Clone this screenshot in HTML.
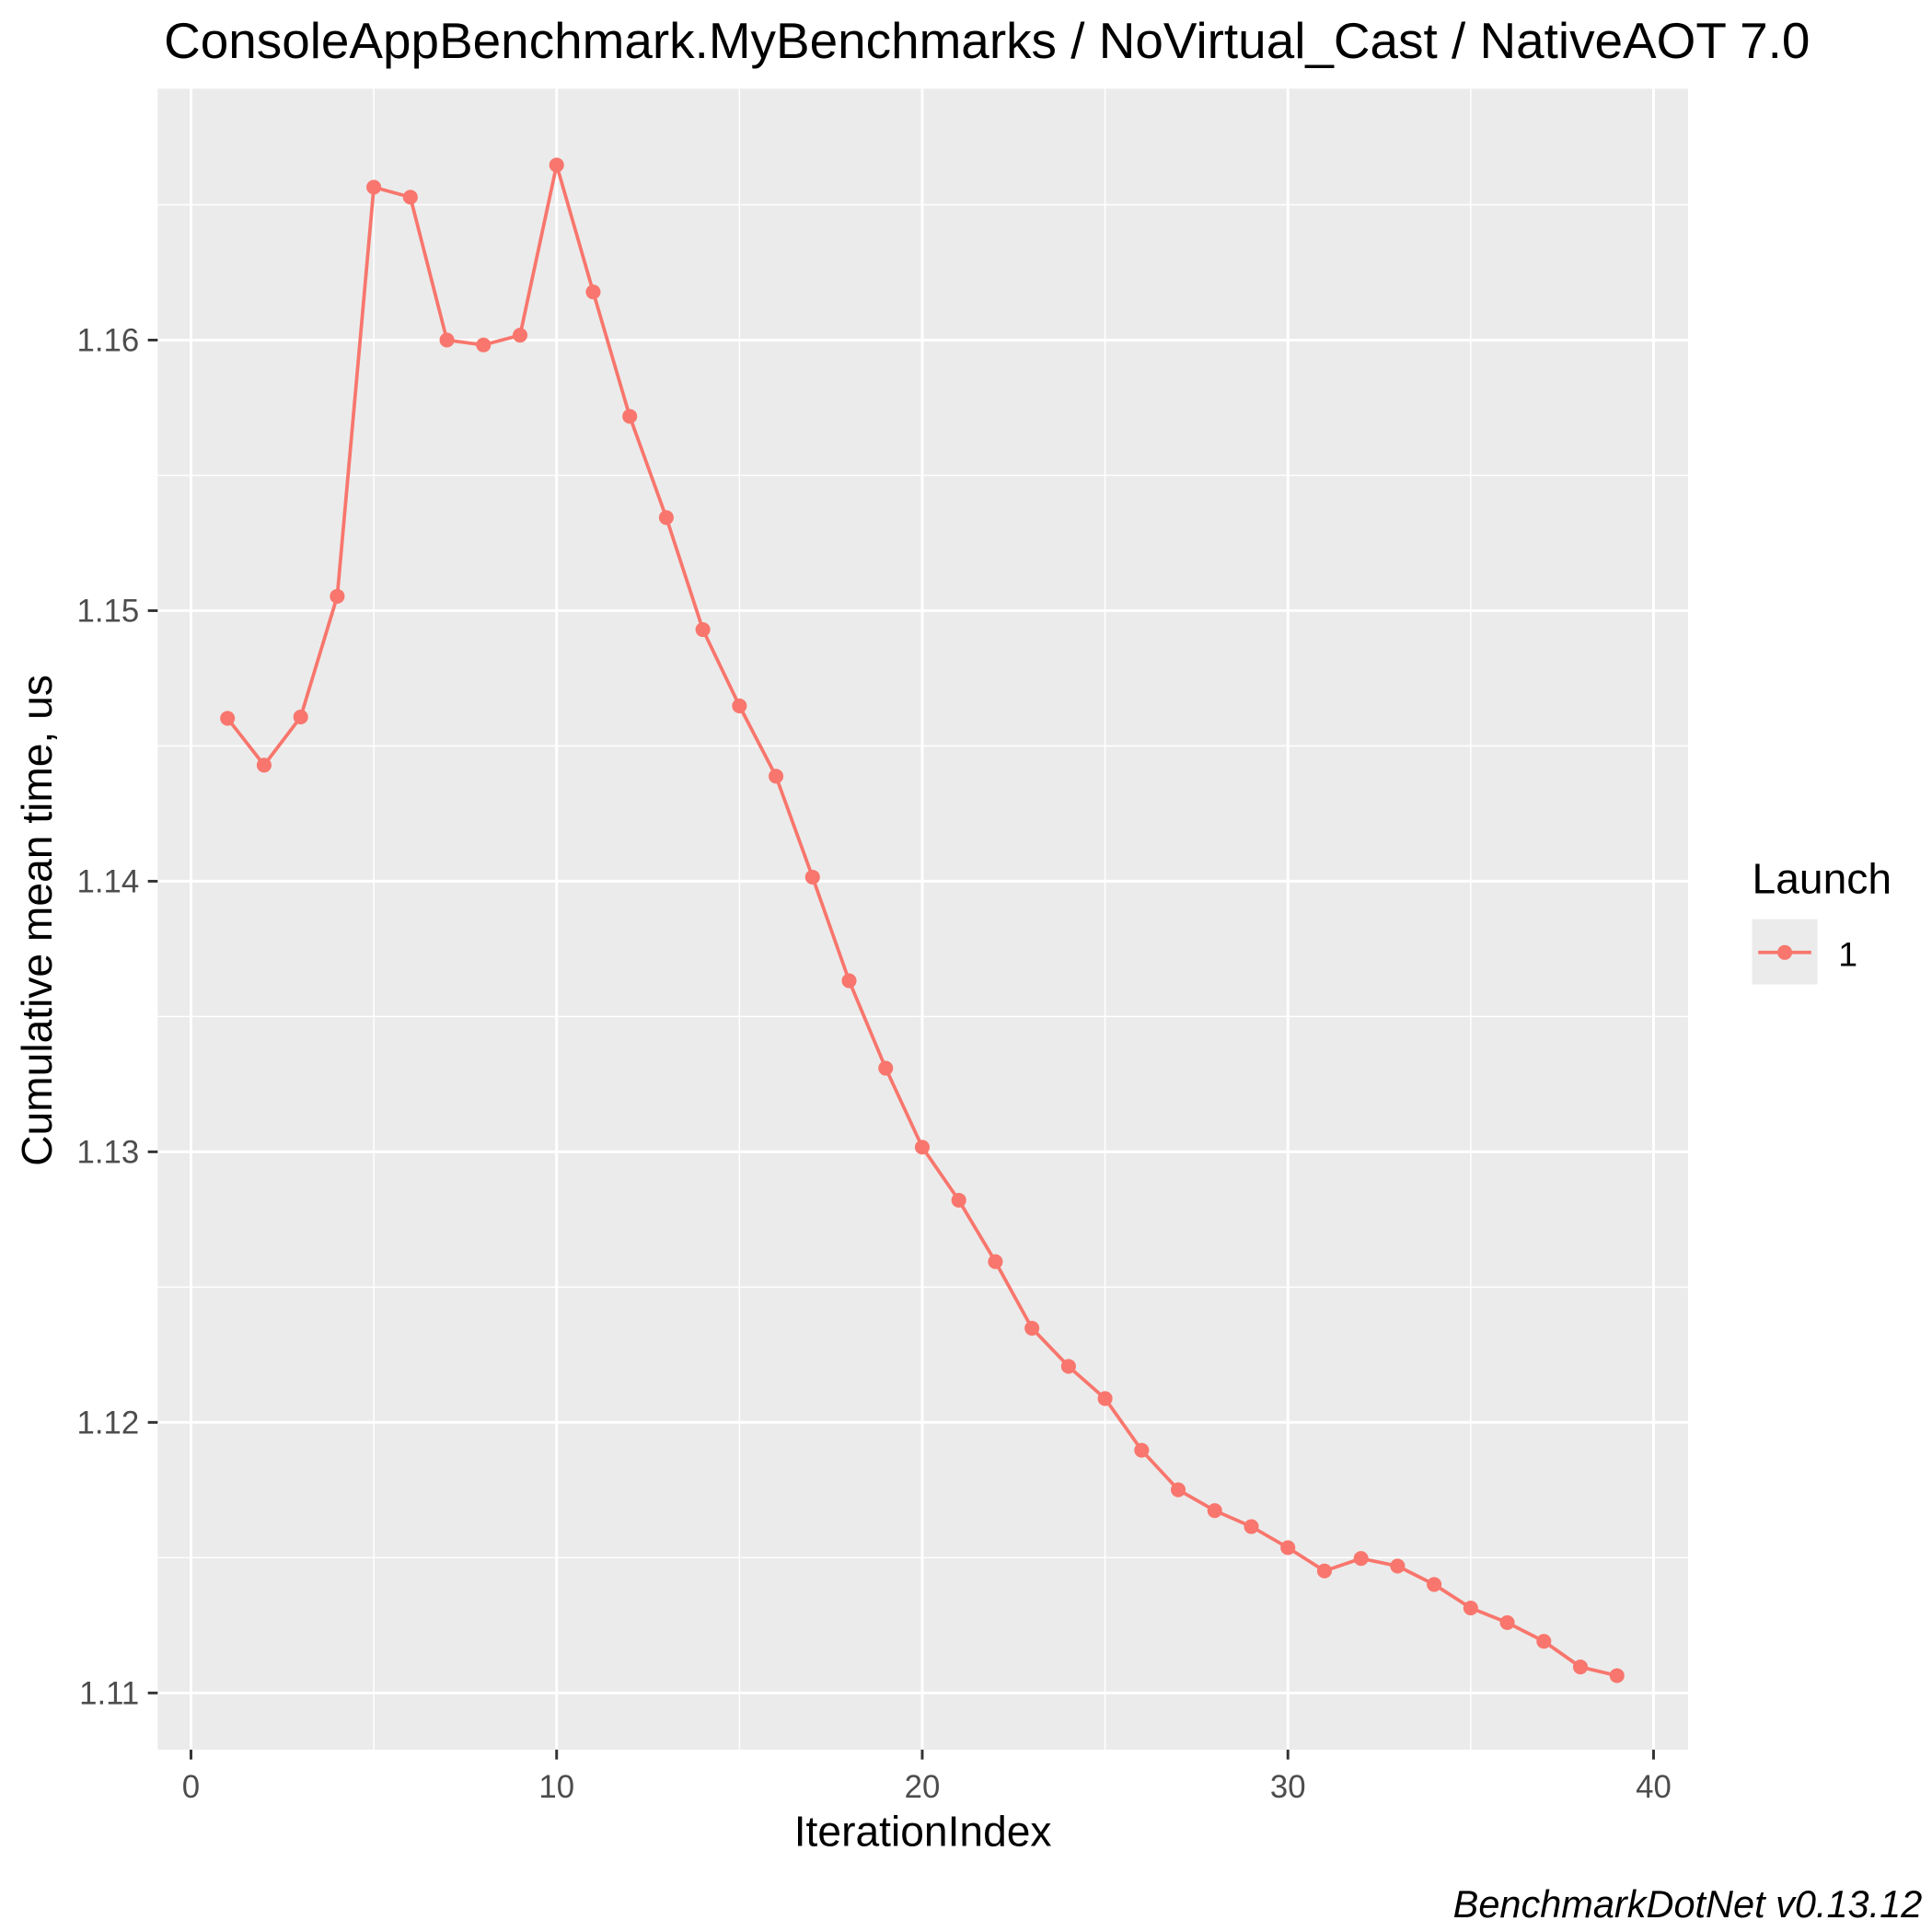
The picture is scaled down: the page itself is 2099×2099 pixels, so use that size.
<!DOCTYPE html>
<html><head><meta charset="utf-8"><style>
html,body{margin:0;padding:0;background:#fff;}
svg{display:block;font-family:"Liberation Sans",Arial,sans-serif;}
</style></head><body>
<svg id="chart" width="2099" height="2099" viewBox="0 0 1568 1568" xmlns="http://www.w3.org/2000/svg">
<rect x="0" y="0" width="1568" height="1568" fill="#fff"/>
<text x="801" y="47" font-size="41" text-anchor="middle" fill="#000">ConsoleAppBenchmark.MyBenchmarks / NoVirtual_Cast / NativeAOT 7.0</text>
<rect x="128" y="72" width="1242" height="1348" fill="#ebebeb"/>
<g id="grid"></g>
<g id="series"></g>
<g id="axes"></g>
<text x="749" y="1498" font-size="34.5" text-anchor="middle" fill="#000">IterationIndex</text>
<text transform="translate(42,747) rotate(-90)" font-size="34.5" text-anchor="middle" fill="#000">Cumulative mean time, us</text>
<g>
<text x="1422" y="725" font-size="34.5" fill="#000">Launch</text>
<rect x="1422" y="746" width="53" height="53" fill="#ebebeb"/>
<line x1="1427" y1="773" x2="1470" y2="773" stroke="#f8766d" stroke-width="2.8"/>
<circle cx="1448.5" cy="773" r="6" fill="#f8766d"/>
<text x="1492" y="784" font-size="28" fill="#000">1</text>
</g>
<text x="1560" y="1556" font-size="31" font-style="italic" text-anchor="end" fill="#000">BenchmarkDotNet v0.13.12</text>
</svg>
<script>
const iterations = [1,2,3,4,5,6,7,8,9,10,11,12,13,14,15,16,17,18,19,20,21,22,23,24,25,26,27,28,29,30,31,32,33,34,35,36,37,38,39];
const meanTimes = [1.14602,1.14429,1.14607,1.15053,1.16565,1.16528,1.16,1.15982,1.16018,1.16647,1.16178,1.15718,1.15344,1.1493,1.14648,1.14388,1.14015,1.13632,1.13309,1.13017,1.12821,1.12594,1.12348,1.12207,1.12088,1.11897,1.11751,1.11674,1.11615,1.11537,1.11451,1.11497,1.11469,1.11401,1.11314,1.1126,1.11191,1.11096,1.11064];
const xTicks = [0,10,20,30,40];
const xMinor = [5,15,25,35];
const yTicks = [1.11,1.12,1.13,1.14,1.15,1.16];
const yMinor = [1.115,1.125,1.135,1.145,1.155,1.165];
const yTickLabels = ["1.11","1.12","1.13","1.14","1.15","1.16"];

const NS = "http://www.w3.org/2000/svg";
const X = v => 155 + (v - 0) * 29.675;
const Y = v => 276 + (1.16 - v) * 21960;
function mk(tag, attrs, parent){const e=document.createElementNS(NS,tag);for(const k in attrs)e.setAttribute(k,attrs[k]);parent.appendChild(e);return e;}
const grid=document.getElementById('grid'), series=document.getElementById('series'), axes=document.getElementById('axes');
yMinor.forEach(v=>{const l=mk('line',{x1:128,x2:1370,y1:Y(v),y2:Y(v),stroke:'#fff','stroke-width':1.1},grid);

});
xMinor.forEach(v=>{const l=mk('line',{x1:X(v),x2:X(v),y1:72,y2:1420,stroke:'#fff','stroke-width':1.1},grid);

});
yTicks.forEach((v,i)=>{const l=mk('line',{x1:128,x2:1370,y1:Y(v),y2:Y(v),stroke:'#fff','stroke-width':2.2},grid);


mk('line',{x1:120,x2:128,y1:Y(v),y2:Y(v),stroke:'#333','stroke-width':2.2},axes);
const t=mk('text',{x:113,y:Y(v)+9,'font-size':26,'text-anchor':'end',fill:'#4d4d4d'},axes);t.textContent=yTickLabels[i];

});
xTicks.forEach(v=>{const l=mk('line',{x1:X(v),x2:X(v),y1:72,y2:1420,stroke:'#fff','stroke-width':2.2},grid);


mk('line',{x1:X(v),x2:X(v),y1:1420,y2:1428,stroke:'#333','stroke-width':2.2},axes);
const t=mk('text',{x:X(v),y:1459,'font-size':26,'text-anchor':'middle',fill:'#4d4d4d'},axes);t.textContent=String(v);

});
const pts=iterations.map((it,i)=>X(it)+','+Y(meanTimes[i])).join(' ');
const pl=mk('polyline',{points:pts,fill:'none',stroke:'#f8766d','stroke-width':2.8},series);


iterations.forEach((it,i)=>{const c=mk('circle',{cx:X(it),cy:Y(meanTimes[i]),r:6,fill:'#f8766d'},series);

});
</script>
</body></html>
